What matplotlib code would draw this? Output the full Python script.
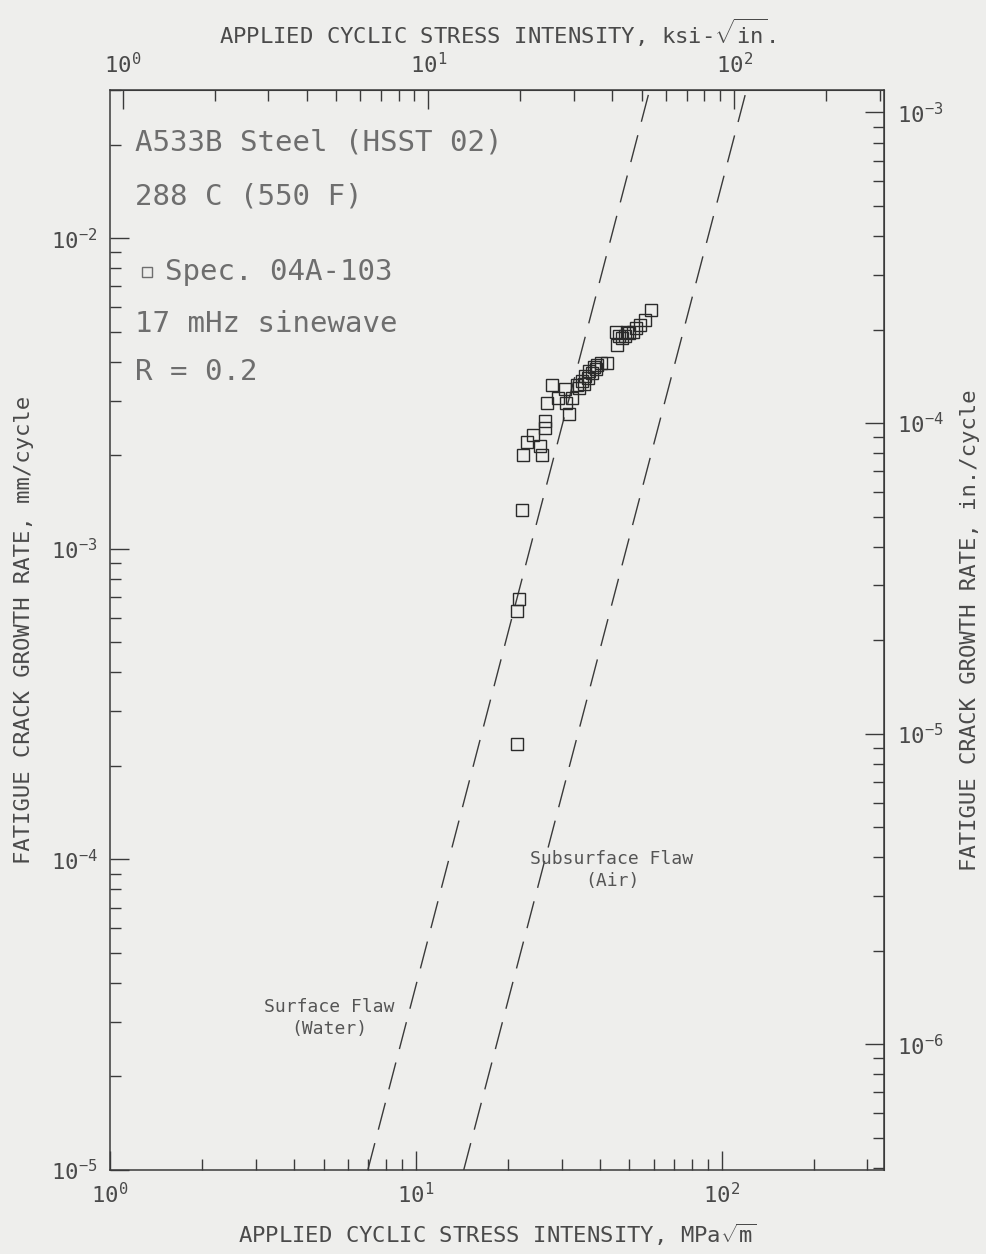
import numpy as np
import matplotlib.pyplot as plt
from matplotlib.ticker import LogLocator, NullFormatter, FuncFormatter

# --- data ---
# Spec. 04A-103, delta K in MPa*sqrt(m), da/dN in mm/cycle
delta_k = [21.5, 21.5, 21.7, 22.2, 22.4, 25.8, 24.1, 23.1, 25.4, 26.4,
           26.4, 26.8, 28.0, 29.1, 30.7, 31.1, 31.8, 32.4, 33.8, 34.3,
           34.9, 35.4, 35.9, 36.5, 37.0, 37.6, 38.2, 38.8, 39.3, 40.5,
           42.1, 45.3, 45.5, 46.2, 47.1, 48.2, 49.0, 50.0, 51.3, 52.7,
           54.0, 56.0, 59.0]
growth_rate = [2.35e-4, 6.3e-4, 6.9e-4, 1.33e-3, 2.0e-3, 2.0e-3, 2.32e-3, 2.21e-3, 2.15e-3, 2.44e-3,
               2.57e-3, 2.94e-3, 3.36e-3, 3.05e-3, 3.28e-3, 2.94e-3, 2.72e-3, 3.05e-3, 3.36e-3, 3.30e-3,
               3.48e-3, 3.40e-3, 3.59e-3, 3.55e-3, 3.73e-3, 3.68e-3, 3.84e-3, 3.80e-3, 3.92e-3, 3.95e-3,
               3.95e-3, 5.0e-3, 4.52e-3, 4.85e-3, 4.76e-3, 4.83e-3, 5.0e-3, 4.94e-3, 5.0e-3, 5.13e-3,
               5.25e-3, 5.44e-3, 5.86e-3]

# reference curves (end points on the frame)
surface_k = [6.97, 58.2]
surface_rate = [1e-5, 3e-2]
subsurface_k = [14.35, 120.7]
subsurface_rate = [1e-5, 3e-2]

info_lines = ['A533B Steel (HSST 02)', '288 C (550 F)', 'Spec. 04A-103',
              '17 mHz sinewave', 'R = 0.2']

KSI_PER_MPA = 1.0988   # MPa*sqrt(m) per ksi*sqrt(in)
MM_PER_IN = 25.4
K_LIM = (1, 340)
RATE_LIM = (1e-5, 3e-2)

# --- style ---
plt.rcParams['font.family'] = ['DejaVu Sans Mono']
plt.rcParams['mathtext.fontset'] = 'custom'
plt.rcParams['mathtext.rm'] = 'DejaVu Sans Mono'
plt.rcParams['mathtext.it'] = 'DejaVu Sans Mono'
plt.rcParams['mathtext.default'] = 'rm'

bg = '#eeeeec'
ink = '#3a3a3a'
txt = '#6e6e6e'

fig = plt.figure(figsize=(9.87, 12.54), dpi=100, facecolor=bg)
W, H = 987, 1254
L, R, T, B = 110, 884, 90, 1170
ax = fig.add_axes([L / W, 1 - B / H, (R - L) / W, (B - T) / H], facecolor=bg)

ax.set_xscale('log')
ax.set_yscale('log')
ax.set_xlim(*K_LIM)
ax.set_ylim(*RATE_LIM)

# data + curves
ax.plot(delta_k, growth_rate, ls='none', marker='s', ms=8.8, mfc='none',
        mec='#2a2a2a', mew=1.0, zorder=3)
ax.plot(surface_k, surface_rate, color=ink, lw=1.0, dashes=(20, 10))
ax.plot(subsurface_k, subsurface_rate, color=ink, lw=1.0, dashes=(20, 10))

# secondary scales
top = ax.secondary_xaxis('top', functions=(lambda x: x / KSI_PER_MPA, lambda x: x * KSI_PER_MPA))
right = ax.secondary_yaxis('right', functions=(lambda y: y / MM_PER_IN, lambda y: y * MM_PER_IN))


def make_fmt(lo, hi):
    def fmt(v, pos):
        if v <= 0 or v < lo * 0.999 or v > hi * 1.001:
            return ''
        e = int(np.round(np.log10(v)))
        if not np.isclose(v, 10.0 ** e):
            return ''
        return r'$10^{%d}$' % e
    return fmt


axes_lims = [
    (ax.xaxis, K_LIM),
    (ax.yaxis, RATE_LIM),
    (top.xaxis, (K_LIM[0] / KSI_PER_MPA, K_LIM[1] / KSI_PER_MPA)),
    (right.yaxis, (RATE_LIM[0] / MM_PER_IN, RATE_LIM[1] / MM_PER_IN)),
]
for a, (lo, hi) in axes_lims:
    a.set_major_locator(LogLocator(base=10))
    a.set_minor_locator(LogLocator(base=10, subs=np.arange(2, 10)))
    a.set_major_formatter(FuncFormatter(make_fmt(lo, hi)))
    a.set_minor_formatter(NullFormatter())

for a in (ax, top, right):
    a.tick_params(which='major', direction='in', length=14, width=1.0, color=ink,
                  labelsize=16, labelcolor='#4a4a4a', pad=9)
    a.tick_params(which='minor', direction='in', length=8, width=1.0, color=ink)
ax.tick_params(top=False, right=False)

for s in ax.spines.values():
    s.set_color(ink)
    s.set_linewidth(1.1)
top.spines['top'].set_color(ink)
right.spines['right'].set_color(ink)

# axis titles
lab_kw = dict(fontsize=16, color='#4a4a4a')
ax.set_xlabel(r'APPLIED CYCLIC STRESS INTENSITY, MPa$\sqrt{\mathrm{m}}$', labelpad=10, **lab_kw)
top.set_xlabel(r'APPLIED CYCLIC STRESS INTENSITY, ksi-$\sqrt{\mathrm{in}}$.', labelpad=6, **lab_kw)
ax.set_ylabel('FATIGUE CRACK GROWTH RATE, mm/cycle', labelpad=12, **lab_kw)
right.set_ylabel('FATIGUE CRACK GROWTH RATE, in./cycle', labelpad=12, rotation=90, **lab_kw)

# info block
ys = [143, 196, 272, 324, 372]
for i, (line, yp) in enumerate(zip(info_lines, ys)):
    xp = 165 if i == 2 else 135
    ax.text((xp - L) / (R - L), (B - yp) / (B - T), line, transform=ax.transAxes,
            fontsize=21, color=txt, va='center', ha='left')
ax.plot([(147 - L) / (R - L)], [(B - 272) / (B - T)], marker='s', ms=7, mfc='none',
        mec=txt, mew=1.0, transform=ax.transAxes)

# curve labels
ax.text((612 - L) / (R - L), (B - 870) / (B - T), 'Subsurface Flaw\n(Air)', transform=ax.transAxes,
        fontsize=13, color='#555555', ha='center', va='center', linespacing=1.3)
ax.text((329 - L) / (R - L), (B - 1018) / (B - T), 'Surface Flaw\n(Water)', transform=ax.transAxes,
        fontsize=13, color='#555555', ha='center', va='center', linespacing=1.3)

fig.savefig('out.png', dpi=100, facecolor=bg)
